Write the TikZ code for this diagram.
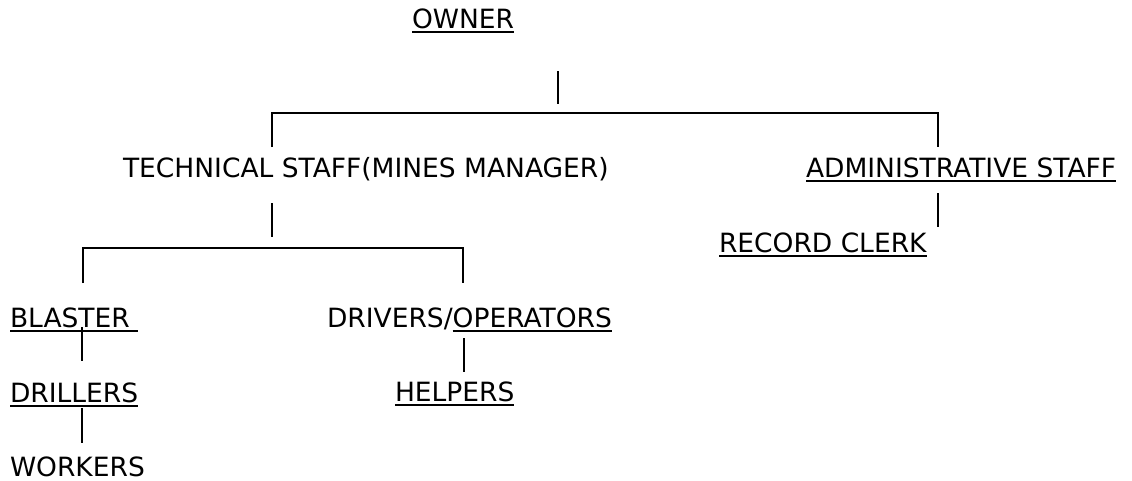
\documentclass[tikz,border=0pt]{standalone}
\usepackage{fontspec}
\setmainfont{DejaVu Sans}
\usepackage{tikz}
\newcommand{\uword}[1]{\setbox0\hbox{#1}\rlap{\rule[-5pt]{\wd0}{1.6pt}}\box0}

\begin{document}
\begin{tikzpicture}[
        x=1pt, y=-1pt,
        post/.style={
            anchor=base west, inner sep=0pt, outer sep=0pt,
            font=\fontsize{26.5}{31}\selectfont, text=black
        },
        bar/.style={draw=black, line width=1.4pt}
    ]
        \useasboundingbox (0,0) rectangle (1132,480);
        \node[post] (owner) at (412,28) {\uword{OWNER}};
        \node[post] (tech) at (123,177) {TECHNICAL STAFF(MINES MANAGER)};
        \node[post] (admin) at (806,177) {\uword{ADMINISTRATIVE STAFF}};
        \node[post] (clerk) at (719,252) {\uword{RECORD CLERK}};
        \node[post] (blaster) at (10,327) {\uword{BLASTER\ }};
        \node[post] (drivers) at (327,327) {DRIVERS/\uword{OPERATORS}};
        \node[post] (drillers) at (10,402) {\uword{DRILLERS}};
        \node[post] (helpers) at (395,401) {\uword{HELPERS}};
        \node[post] (workers) at (10,476) {WORKERS};
        \coordinate (ownerbar) at (558,71);
        \coordinate (techdrop) at (272,147);
        \coordinate (techcorner) at (272,113);
        \coordinate (admincorner) at (938,113);
        \coordinate (admindrop) at (938,147);
        \coordinate (techbar) at (272,203);
        \coordinate (blasterdrop) at (83,283);
        \coordinate (blastercorner) at (83,248);
        \coordinate (driverscorner) at (463,248);
        \coordinate (driversdrop) at (463,283);
        \coordinate (adminbar) at (938,193);
        \coordinate (blasterbar) at (82,327);
        \coordinate (driversbar) at (464,338);
        \coordinate (drillersbar) at (82,408);
        \draw[bar] (ownerbar) -- ++(0,33);
        \draw[bar] (techdrop) -- (techcorner) -- (admincorner) -- (admindrop);
        \draw[bar] (techbar) -- ++(0,34);
        \draw[bar] (blasterdrop) -- (blastercorner) -- (driverscorner) -- (driversdrop);
        \draw[bar] (adminbar) -- ++(0,34);
        \draw[bar] (blasterbar) -- ++(0,34);
        \draw[bar] (driversbar) -- ++(0,34);
        \draw[bar] (drillersbar) -- ++(0,35);
    \end{tikzpicture}
\end{document}
